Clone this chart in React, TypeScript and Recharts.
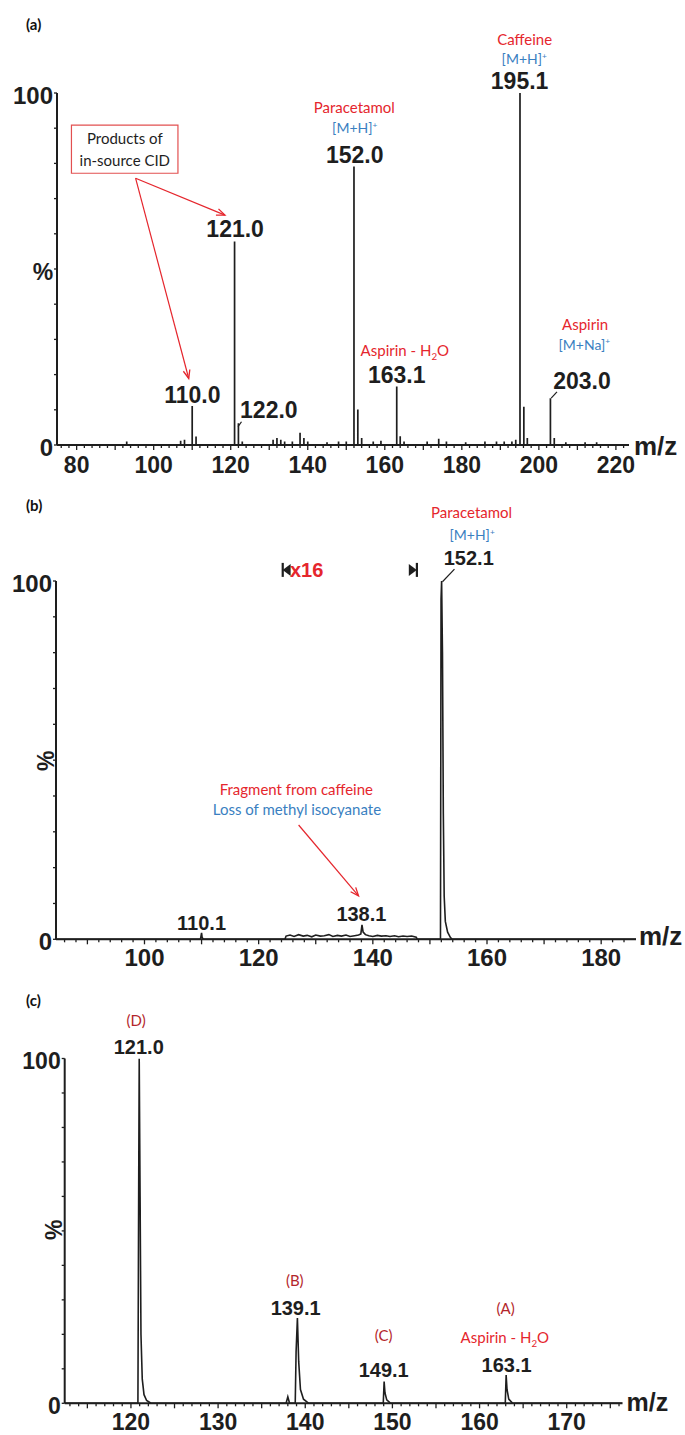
import React from "react";
import { ComposedChart, Line, XAxis, YAxis, ReferenceDot, ReferenceLine, ReferenceArea } from "recharts";

// (a) full-scan centroid spectrum: m/z and relative intensity (%)
const aPeakMz = [93, 107, 108, 110.0, 111, 121.0, 122.0, 123, 131, 132, 133, 134, 136, 138, 139, 140, 145, 148, 150, 152.0, 153.0, 154, 157, 159, 163.1, 164, 165, 171, 174, 176, 181, 186, 189, 191, 193, 194, 195.1, 196.1, 197, 203.0, 204, 207, 212, 215];
const aPeakInt = [1, 1.2, 1.5, 11.1, 2.4, 57.8, 6.2, 1, 1.5, 2, 1.5, 1, 1, 3.5, 2, 1, 0.8, 1, 1, 79.1, 10.1, 2, 1, 1.2, 16.6, 2.5, 1, 1, 1.8, 1, 0.8, 1, 1, 1, 1, 1.5, 100, 10.9, 2, 13.3, 2, 0.8, 0.8, 0.8];
const aTickLabels = [80, 100, 120, 140, 160, 180, 200, 220];

// (b) profile spectrum, paracetamol [M+H]+ product scan
const bMz = [84.5, 109.8, 110.0, 110.1, 110.3, 124.6, 124.8, 125.5, 126.2, 127.0, 127.8, 128.5, 129.3, 130.0, 130.8, 131.5, 132.3, 133.0, 133.8, 134.5, 135.3, 136.0, 136.8, 137.5, 137.9, 138.1, 138.3, 138.7, 139.3, 140.0, 140.8, 141.5, 142.3, 143.0, 143.8, 144.5, 145.3, 146.0, 146.8, 147.6, 147.8, 151.85, 151.95, 152.05, 152.2, 152.35, 152.5, 152.7, 153.1, 153.6, 153.9, 186.1];
const bInt = [0, 0, 1.8, 0.5, 0, 0, 0.9, 1.2, 0.8, 1.3, 0.9, 1.1, 0.7, 1.2, 0.9, 1.0, 1.3, 0.8, 1.1, 0.9, 1.2, 0.8, 1.0, 1.2, 1.5, 4.0, 2.0, 1.3, 1.0, 0.8, 1.1, 0.9, 1.0, 0.8, 1.0, 0.7, 0.9, 0.8, 0.9, 0.6, 0, 0, 95, 100, 80, 35, 12, 5, 2, 0.5, 0, 0];
const bTickLabels = [100, 120, 140, 160, 180];

// (c) profile spectrum, aspirin - H2O product scan
const cMz = [112.4, 120.8, 120.9, 120.95, 121.05, 121.15, 121.3, 121.5, 121.8, 122.3, 137.8, 138.0, 138.2, 138.85, 138.95, 139.1, 139.25, 139.45, 139.8, 140.4, 148.95, 149.05, 149.15, 149.35, 149.8, 162.95, 163.05, 163.15, 163.35, 163.8, 176.4];
const cInt = [0, 0, 70, 100, 60, 20, 7, 2.5, 0.8, 0, 0, 1.9, 0, 0, 15, 24.7, 12, 4, 1.2, 0, 0, 6.3, 3, 1, 0, 0, 8.2, 4, 1.2, 0, 0];
const cTickLabels = [120, 130, 140, 150, 160, 170];

const yTickLabels = [0, 100];

const RED = "#e5262d";
const DKRED = "#b3262b";
const BLUE = "#3a7fc1";
const INK = "#1e1e1e";
const NUM = "'Liberation Sans', Arial, sans-serif";
const CAL = "Lato, 'Noto Sans', sans-serif";

const range = (a: number, b: number, s: number) => {
  const out: number[] = [];
  for (let v = a; v <= b + 1e-9; v += s) out.push(v);
  return out;
};
const pct = range(0, 100, 10);

function sticks(mz: number[], ints: number[], lo: number, hi: number) {
  const pts = [{ mz: lo, y: 0 }];
  mz.forEach((m, i) => pts.push({ mz: m, y: 0 }, { mz: m, y: ints[i] }, { mz: m, y: 0 }));
  pts.push({ mz: hi, y: 0 });
  return pts;
}
const profile = (mz: number[], ints: number[]) => mz.map((m, i) => ({ mz: m, y: ints[i] }));

const xTick = (labels: number[], size: number, major: number, dy: number) => (p: any) => {
  const v = p.payload.value;
  const len = v % major === 0 ? 5 : 3;
  return (
    <g>
      <line x1={p.x} y1={p.y} x2={p.x} y2={p.y + len} stroke={INK} strokeWidth={1.3} />
      {labels.includes(v) && (
        <text x={p.x} y={p.y + dy} textAnchor="middle" fontSize={size} fontFamily={NUM} fontWeight="bold" fill={INK}>
          {v}
        </text>
      )}
    </g>
  );
};

const yTick = (size: number) => (p: any) => {
  const v = p.payload.value;
  return (
    <g>
      <line x1={p.x} y1={p.y} x2={p.x - 3} y2={p.y} stroke={INK} strokeWidth={1.3} />
      {yTickLabels.includes(v) && (
        <text x={p.x - 4} y={p.y + size * 0.36 + 2} textAnchor="end" fontSize={size} fontFamily={NUM} fontWeight="bold" fill={INK}>
          {v}
        </text>
      )}
    </g>
  );
};

function note(key: string, mz: number, y: number, body: React.ReactNode, fill: string, size: number, family = CAL, weight = "normal", opts: any = {}) {
  return (
    <ReferenceDot
      key={key}
      x={mz}
      y={y}
      r={0}
      ifOverflow="visible"
      shape={(p: any) => {
        const x = p.cx + (opts.dx || 0);
        const yy = p.cy + (opts.dy || 0);
        return (
          <text
            x={x}
            y={yy}
            textAnchor={opts.anchor || "middle"}
            dominantBaseline={opts.rotate ? "central" : undefined}
            transform={opts.rotate ? `rotate(-90 ${x} ${yy})` : undefined}
            fill={fill}
            fontSize={size}
            fontFamily={family}
            fontWeight={weight}
          >
            {body}
          </text>
        );
      }}
    />
  );
}

function line(key: string, a: [number, number], b: [number, number], color: string, head: boolean) {
  return (
    <ReferenceLine
      key={key}
      segment={[{ x: a[0], y: a[1] }, { x: b[0], y: b[1] }]}
      ifOverflow="visible"
      shape={(p: any) => {
        const { x1, y1, x2, y2 } = p;
        const ang = Math.atan2(y2 - y1, x2 - x1);
        const L = 9;
        const w = 0.38;
        return (
          <g>
            <line x1={x1} y1={y1} x2={x2} y2={y2} stroke={color} strokeWidth={1.2} />
            {head && (
              <path
                d={`M${x2 - L * Math.cos(ang - w)},${y2 - L * Math.sin(ang - w)} L${x2},${y2} L${x2 - L * Math.cos(ang + w)},${y2 - L * Math.sin(ang + w)}`}
                fill="none"
                stroke={color}
                strokeWidth={1.3}
              />
            )}
          </g>
        );
      }}
    />
  );
}

const sup = (t: string, s: number) => (
  <>
    {t}
    <tspan fontSize={s * 0.6} dy={-s * 0.4}>+</tspan>
  </>
);
const h2o = (s: number) => (
  <>
    Aspirin - H<tspan fontSize={s * 0.65} dy={4}>2</tspan>
    <tspan fontSize={s} dy={-4}>O</tspan>
  </>
);

function marker(key: string, mz: number, y: number, dir: 1 | -1) {
  return (
    <ReferenceDot
      key={key}
      x={mz}
      y={y}
      r={0}
      ifOverflow="visible"
      shape={(p: any) => {
        const bx = p.cx - dir * 4;
        return (
          <g fill={INK}>
            <rect x={bx - 1} y={p.cy - 7} width={2.2} height={14} />
            <path d={`M${bx},${p.cy} L${bx + dir * 8},${p.cy - 6} L${bx + dir * 8},${p.cy + 6} Z`} />
          </g>
        );
      }}
    />
  );
}

const axisStyle = { stroke: INK, strokeWidth: 2 };

function PanelA() {
  const lo = 74.9;
  const hi = 223.4;
  return (
    <ComposedChart width={685} height={490} data={sticks(aPeakMz, aPeakInt, lo, hi)} margin={{ top: 93, right: 56, bottom: 15, left: 7 }}>
      <XAxis dataKey="mz" type="number" domain={[lo, hi]} allowDataOverflow ticks={range(76, 222, 2)} interval={0} tickSize={0} tickMargin={0} tickLine={false} axisLine={axisStyle} tick={xTick(aTickLabels, 23, 10, 28)} height={30} />
      <YAxis type="number" domain={[0, 100]} allowDataOverflow ticks={pct} interval={0} tickSize={0} tickMargin={0} tickLine={false} axisLine={axisStyle} tick={yTick(24)} width={50} />
      <ReferenceArea x1={78.65} x2={106.3} y1={77.2} y2={90.9} fill="#fff" fillOpacity={1} stroke="#e25050" strokeWidth={1.2} ifOverflow="visible" />
      <Line dataKey="y" type="linear" stroke={INK} strokeWidth={1.7} dot={false} activeDot={false} isAnimationActive={false} />
      {note("mz", hi, 0, "m/z", INK, 26, NUM, "bold", { anchor: "start", dx: 5, dy: 10 })}
      {note("pc", lo, 46.9, "%", INK, 23, NUM, "bold", { dx: -14 })}
      {note("caf", 196.3, 113.6, "Caffeine", RED, 15)}
      {note("cafh", 196.2, 108.2, sup("[M+H]", 14), BLUE, 14)}
      {note("p195", 195.0, 101.0, "195.1", INK, 23, NUM, "bold")}
      {note("par", 152.1, 94.2, "Paracetamol", RED, 15)}
      {note("parh", 152.2, 88.5, sup("[M+H]", 14), BLUE, 14)}
      {note("p152", 152.2, 80.0, "152.0", INK, 23, NUM, "bold")}
      {note("prod1", 92.5, 85.4, "Products of", INK, 15)}
      {note("prod2", 92.5, 79.4, "in-source CID", INK, 15)}
      {line("ar1", [95.3, 75.8], [118.5, 65.3], RED, true)}
      {line("ar2", [95.3, 75.8], [109.1, 18.9], RED, true)}
      {note("p121", 121.15, 59.2, "121.0", INK, 23, NUM, "bold")}
      {note("asp1", 165.2, 25.3, h2o(15), RED, 15)}
      {note("p163", 163.1, 17.5, "163.1", INK, 23, NUM, "bold")}
      {note("asp2", 212.0, 32.7, "Aspirin", RED, 15)}
      {note("aspna", 211.8, 27.0, sup("[M+Na]", 14), BLUE, 14)}
      {note("p203", 211.2, 15.8, "203.0", INK, 23, NUM, "bold")}
      {line("l203", [203.2, 13.3], [204.7, 15.1], INK, false)}
      {note("p110", 110.05, 12.0, "110.0", INK, 23, NUM, "bold")}
      {note("p122", 129.9, 7.8, "122.0", INK, 23, NUM, "bold")}
      {line("l122", [121.9, 5.2], [122.8, 6.6], INK, false)}
    </ComposedChart>
  );
}

function PanelB() {
  const lo = 84.5;
  const hi = 186.1;
  return (
    <ComposedChart width={685} height={495} data={profile(bMz, bInt)} margin={{ top: 91, right: 49, bottom: 15.7, left: 6 }}>
      <XAxis dataKey="mz" type="number" domain={[lo, hi]} allowDataOverflow ticks={range(86, 184, 2)} interval={0} tickSize={0} tickMargin={0} tickLine={false} axisLine={axisStyle} tick={xTick(bTickLabels, 24, 10, 27)} height={30} />
      <YAxis type="number" domain={[0, 100]} allowDataOverflow ticks={pct} interval={0} tickSize={0} tickMargin={0} tickLine={false} axisLine={axisStyle} tick={yTick(24)} width={50} />
      <Line dataKey="y" type="linear" stroke={INK} strokeWidth={1.6} dot={false} activeDot={false} isAnimationActive={false} />
      {note("mz", hi, 0, "m/z", INK, 26, NUM, "bold", { anchor: "start", dx: 3, dy: 6 })}
      {note("pc", lo, 49.8, "%", INK, 23, NUM, "bold", { dx: -10, rotate: true })}
      {note("par", 157.3, 117.5, "Paracetamol", RED, 15)}
      {note("parh", 157.4, 111.4, sup("[M+H]", 14), BLUE, 14)}
      {note("p152", 156.8, 104.5, "152.1", INK, 20, NUM, "bold")}
      {line("l152", [152.2, 99.8], [154.3, 103.3], INK, false)}
      {marker("mk1", 124.9, 103.1, 1)}
      {marker("mk2", 147.0, 103.1, -1)}
      {note("x16", 128.4, 101.2, "x16", RED, 20, NUM, "bold")}
      {note("frag", 126.6, 40.3, "Fragment from caffeine", RED, 15)}
      {note("loss", 126.7, 34.7, "Loss of methyl isocyanate", BLUE, 15)}
      {line("ar", [127.0, 31.9], [137.5, 12.1], RED, true)}
      {note("p138", 138.0, 5.2, "138.1", INK, 20, NUM, "bold")}
      {note("p110", 110.0, 2.6, "110.1", INK, 20, NUM, "bold")}
    </ComposedChart>
  );
}

function PanelC() {
  const lo = 112.4;
  const hi = 176.4;
  return (
    <ComposedChart width={685} height={450} data={profile(cMz, cInt)} margin={{ top: 73.5, right: 62.5, bottom: 1.7, left: 14.7 }}>
      <XAxis dataKey="mz" type="number" domain={[lo, hi]} allowDataOverflow ticks={range(113, 176, 1)} interval={0} tickSize={0} tickMargin={0} tickLine={false} axisLine={axisStyle} tick={xTick(cTickLabels, 23, 5, 26.5)} height={30} />
      <YAxis type="number" domain={[0, 100]} allowDataOverflow ticks={pct} interval={0} tickSize={0} tickMargin={0} tickLine={false} axisLine={axisStyle} tick={yTick(23)} width={50} />
      <Line dataKey="y" type="linear" stroke={INK} strokeWidth={1.6} dot={false} activeDot={false} isAnimationActive={false} />
      {note("mz", hi, 0, "m/z", INK, 25, NUM, "bold", { anchor: "start", dx: 4, dy: 8 })}
      {note("pc", lo, 50.3, "%", INK, 23, NUM, "bold", { dx: -10.7, rotate: true })}
      {note("d", 120.6, 109.4, "(D)", DKRED, 15)}
      {note("p121", 120.9, 101.2, "121.0", INK, 20, NUM, "bold")}
      {note("b", 138.8, 34.1, "(B)", DKRED, 15)}
      {note("p139", 138.9, 25.6, "139.1", INK, 20, NUM, "bold")}
      {note("c", 149.0, 18.2, "(C)", DKRED, 15)}
      {note("p149", 149.0, 7.7, "149.1", INK, 20, NUM, "bold")}
      {note("a", 163.0, 25.9, "(A)", DKRED, 15)}
      {note("asp", 162.9, 17.4, h2o(15), RED, 15)}
      {note("p163", 163.1, 9.2, "163.1", INK, 20, NUM, "bold")}
    </ComposedChart>
  );
}

const tag = (t: string, top: number) => (
  <div style={{ position: "absolute", left: 26, top, fontFamily: CAL, fontWeight: "bold", fontSize: 15, color: "#111", lineHeight: "18px" }}>{t}</div>
);

export default function App() {
  return (
    <div style={{ position: "absolute", left: 0, top: 0, width: 685, height: 1435, background: "#fff", overflow: "hidden" }}>
      {tag("(a)", 15)}
      {tag("(b)", 496)}
      {tag("(c)", 991)}
      <div style={{ position: "absolute", left: 0, top: 0 }}>
        <PanelA />
      </div>
      <div style={{ position: "absolute", left: 0, top: 490 }}>
        <PanelB />
      </div>
      <div style={{ position: "absolute", left: 0, top: 985 }}>
        <PanelC />
      </div>
    </div>
  );
}
